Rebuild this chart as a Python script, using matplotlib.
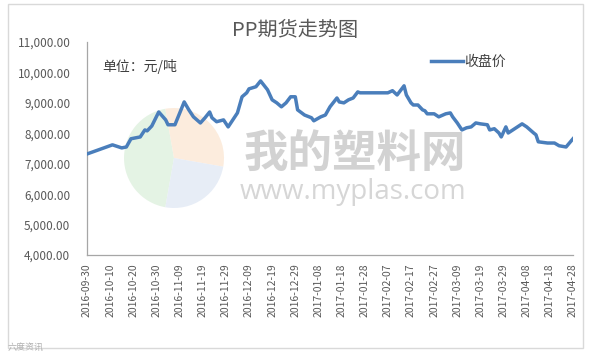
"""PP futures closing price chart (Excel style)."""

import numpy as np
import pandas as pd
import matplotlib
matplotlib.use('Agg')
import matplotlib.pyplot as plt
import matplotlib.dates as mdates
from matplotlib.patches import Rectangle, Wedge
from matplotlib.ticker import FuncFormatter

plt.rcParams['font.family'] = ['Noto Sans CJK SC', 'DejaVu Sans']

# closing prices
dates = [
    '2016-09-30', '2016-10-11', '2016-10-15', '2016-10-17', '2016-10-19',
    '2016-10-23', '2016-10-25', '2016-10-26', '2016-10-28', '2016-10-31',
    '2016-11-03', '2016-11-04', '2016-11-07', '2016-11-11', '2016-11-13',
    '2016-11-15', '2016-11-18', '2016-11-20', '2016-11-22', '2016-11-23',
    '2016-11-25', '2016-11-28', '2016-11-30', '2016-12-04', '2016-12-06',
    '2016-12-08', '2016-12-09', '2016-12-12', '2016-12-14', '2016-12-17',
    '2016-12-19', '2016-12-21', '2016-12-23', '2016-12-25', '2016-12-27',
    '2016-12-29', '2016-12-30', '2017-01-02', '2017-01-05', '2017-01-06',
    '2017-01-09', '2017-01-11', '2017-01-13', '2017-01-16', '2017-01-17',
    '2017-01-19', '2017-01-21', '2017-01-23', '2017-01-25', '2017-01-26',
    '2017-01-29', '2017-02-07', '2017-02-09', '2017-02-11', '2017-02-12',
    '2017-02-14', '2017-02-15', '2017-02-17', '2017-02-18', '2017-02-20',
    '2017-02-22', '2017-02-23', '2017-02-24', '2017-02-27', '2017-03-01',
    '2017-03-04', '2017-03-06', '2017-03-07', '2017-03-09', '2017-03-11',
    '2017-03-13', '2017-03-15', '2017-03-17', '2017-03-19', '2017-03-22',
    '2017-03-23', '2017-03-25', '2017-03-27', '2017-03-28', '2017-03-30',
    '2017-03-31', '2017-04-02', '2017-04-06', '2017-04-08', '2017-04-11',
    '2017-04-12', '2017-04-13', '2017-04-17', '2017-04-20', '2017-04-22',
    '2017-04-25', '2017-04-28',
]
close = [
    7320, 7620, 7520, 7550, 7820,
    7880, 8110, 8080, 8240, 8700,
    8440, 8280, 8280, 9030, 8770,
    8540, 8340, 8510, 8700, 8510,
    8380, 8440, 8210, 8670, 9200,
    9330, 9460, 9530, 9720, 9430,
    9100, 9000, 8870, 9000, 9200,
    9200, 8770, 8600, 8510, 8410,
    8540, 8600, 8870, 9160, 9030,
    9000, 9100, 9160, 9360, 9330,
    9330, 9330, 9400, 9260, 9360,
    9560, 9260, 9000, 8930, 8930,
    8770, 8740, 8640, 8640, 8540,
    8640, 8670, 8540, 8340, 8110,
    8180, 8210, 8340, 8310, 8280,
    8110, 8150, 8010, 7880, 8210,
    8010, 8110, 8310, 8210, 8010,
    7950, 7720, 7680, 7680, 7590,
    7550, 7820,
]
tick_start = '2016-09-30'
tick_end = '2017-04-28'
y_ticks = [4000, 5000, 6000, 7000, 8000, 9000, 10000, 11000]

x = pd.to_datetime(dates)
ticks = pd.date_range(tick_start, tick_end, freq='10D')

W, H = 590, 358
fig = plt.figure(figsize=(W / 100, H / 100), dpi=100)

# outer chart frame
fig.patches.append(Rectangle((8 / W, 1 - 348 / H), 575 / W, 344 / H,
                             transform=fig.transFigure, fill=False,
                             edgecolor='#d9d9d9', linewidth=1))

ax = fig.add_axes([87 / W, 1 - 255 / H, 486 / W, 213 / H])
ax.set_zorder(2)

# faint logo watermark (drawn in inches so it stays round)
cx, cy, r = 174, 158, 50
inch = fig.dpi_scale_trans
for t1, t2, c in [(100, 260, '#dcefdc'), (-10, 100, '#fbe6d2'),
                  (260, 350, '#dfe7f4')]:
    fig.patches.append(Wedge((cx / 100, (H - cy) / 100), r / 100, t1, t2,
                             transform=inch, facecolor=c, edgecolor='none',
                             alpha=0.75, zorder=0))
fig.text(355 / W, 1 - 154 / H, '我的塑料网', ha='center', va='center',
         fontsize=32, fontweight='bold', color='#d2d2d2', zorder=0)
fig.text(353 / W, 1 - 192 / H, 'www.myplas.com', ha='center', va='center',
         fontsize=20, color='#d6d6d6', zorder=0,
         family=['Open Sans', 'DejaVu Sans'])

ax.patch.set_alpha(0)
ax.plot(x, close, color='#4a7ebb', linewidth=2.5, solid_joinstyle='round',
        label='收盘价', zorder=3)

ax.set_xlim(pd.Timestamp(tick_start), pd.Timestamp(tick_end))
ax.set_ylim(4000, 11000)
ax.set_yticks(y_ticks)
ax.yaxis.set_major_formatter(FuncFormatter(lambda v, p: f'{v:,.2f}'))
ax.set_xticks(ticks)
ax.xaxis.set_major_formatter(mdates.DateFormatter('%Y-%m-%d'))
ax.tick_params(axis='x', length=0, labelsize=7.5, labelcolor='#595959',
               rotation=90, pad=6)
ax.tick_params(axis='y', length=0, labelsize=8.5, labelcolor='#595959',
               pad=12)

for side in ['top', 'right']:
    ax.spines[side].set_visible(False)
for side in ['left', 'bottom']:
    ax.spines[side].set_color('#a6a6a6')
    ax.spines[side].set_linewidth(0.9)

fig.text(0.5, 1 - 31 / H, 'PP期货走势图', ha='center', va='center',
         fontsize=14.5, color='#595959')
fig.text(102 / W, 1 - 67 / H, '单位：元/吨', ha='left', va='center',
         fontsize=10, color='#404040')

fig.legend(loc='center left', bbox_to_anchor=(431 / W, 1 - 62 / H),
           frameon=False, handlelength=2.3, handletextpad=0.1,
           borderpad=0, borderaxespad=0, fontsize=10, labelcolor='#404040')

fig.text(8 / W, 1 - 347 / H, '六度资讯', ha='left', va='center',
         fontsize=6.5, color='#b0b0b0')

fig.savefig('out.png', dpi=100)
